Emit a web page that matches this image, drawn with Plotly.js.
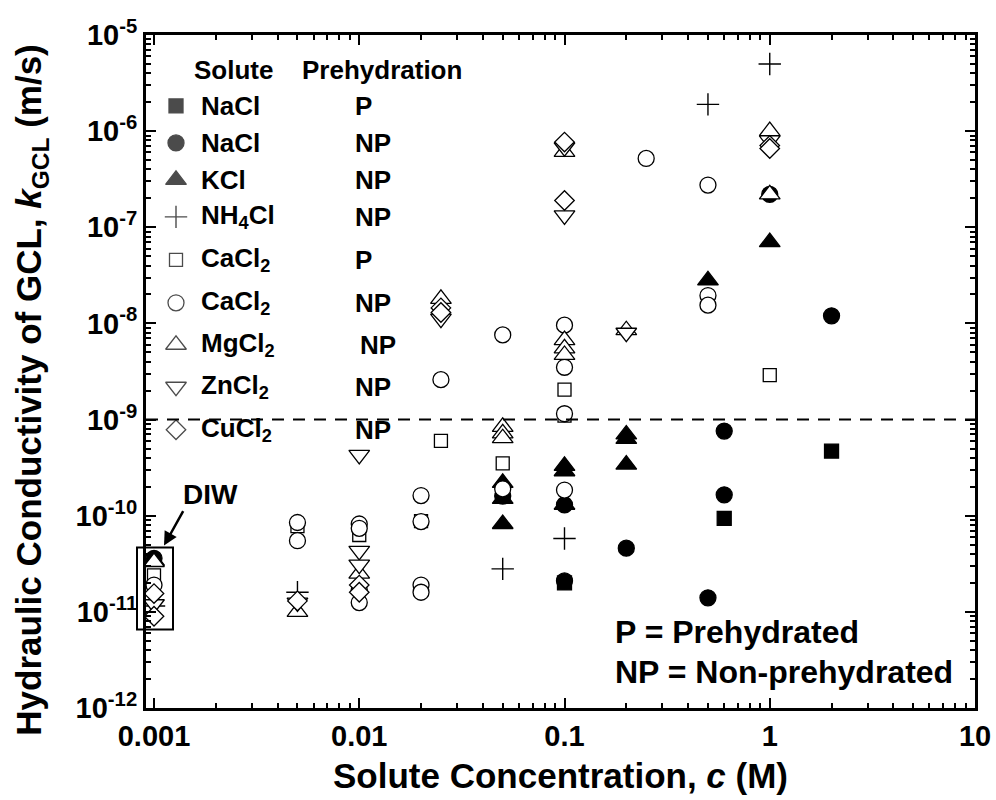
<!DOCTYPE html>
<html>
<head>
<meta charset="utf-8">
<script src="https://cdn.plot.ly/plotly-3.0.1.min.js"></script>
<style>html,body{margin:0;padding:0;background:#fff;}#chart{width:996px;height:800px;}</style>
</head>
<body>
<div id="chart"></div>
<script>
// ---- data: solute concentration c (M) and hydraulic conductivity k (m/s) ----
const naclP_c = [0.1, 0.6, 2];
const naclP_k = [2.0e-11, 9.4e-11, 4.7e-10];

const naclNP_c = [0.001, 0.05, 0.1, 0.1, 0.2, 0.5, 0.6, 0.6, 1, 2];
const naclNP_k = [3.6e-11, 1.6e-10, 1.3e-10, 2.1e-11, 4.6e-11, 1.4e-11, 1.65e-10, 7.6e-10, 2.2e-7, 1.2e-8];

const kcl_c = [0.001, 0.05, 0.05, 0.05, 0.1, 0.1, 0.1, 0.2, 0.2, 0.2, 0.5, 1];
const kcl_k = [3.4e-11, 2.2e-10, 1.5e-10, 8.2e-11, 3.3e-10, 2.9e-10, 1.3e-10, 7.0e-10, 6.3e-10, 3.4e-10, 2.8e-8, 7.0e-8];

const nh4cl_c = [0.001, 0.005, 0.05, 0.1, 0.5, 1];
const nh4cl_k = [1.15e-11, 1.6e-11, 2.8e-11, 5.8e-11, 1.9e-6, 5.0e-6];

const cacl2P_c = [0.001, 0.005, 0.01, 0.02, 0.025, 0.05, 0.1, 0.1, 1];
const cacl2P_k = [2.4e-11, 7.8e-11, 6.3e-11, 8.8e-11, 6.0e-10, 3.5e-10, 2.05e-9, 1.1e-9, 2.9e-9];

const cacl2NP_c = [0.001, 0.005, 0.005, 0.01, 0.01, 0.01, 0.01, 0.02, 0.02, 0.02, 0.02, 0.025, 0.05, 0.05, 0.1, 0.1, 0.1, 0.1, 0.25, 0.5, 0.5, 0.5];
const cacl2NP_k = [1.9e-11, 8.5e-11, 5.5e-11, 8.2e-11, 7.4e-11, 1.7e-11, 1.25e-11, 1.62e-10, 8.7e-11, 1.9e-11, 1.6e-11, 2.6e-9, 7.6e-9, 1.9e-10, 9.6e-9, 3.5e-9, 1.15e-9, 1.85e-10, 5.2e-7, 2.75e-7, 1.95e-8, 1.55e-8];

const mgcl2_c = [0.001, 0.005, 0.01, 0.025, 0.05, 0.05, 0.05, 0.1, 0.1, 0.1, 0.1, 0.2, 1, 1];
const mgcl2_k = [3.3e-11, 1.0e-11, 2.5e-11, 1.8e-8, 8.4e-10, 7.2e-10, 6.4e-10, 6.7e-9, 5.5e-9, 4.7e-9, 6.1e-7, 8.5e-9, 1.0e-6, 2.2e-7];

const zncl2_c = [0.001, 0.005, 0.01, 0.01, 0.01, 0.025, 0.1, 0.1, 0.2, 1];
const zncl2_k = [1.2e-11, 1.25e-11, 4.3e-10, 4.3e-11, 3.1e-11, 1.12e-8, 6.8e-7, 1.33e-7, 8.0e-9, 8.0e-7];

const cucl2_c = [0.001, 0.001, 0.005, 0.01, 0.01, 0.025, 0.025, 0.1, 0.1, 1, 1];
const cucl2_k = [1.55e-11, 9e-12, 1.3e-11, 1.9e-11, 1.6e-11, 1.45e-8, 1.3e-8, 7.7e-7, 1.9e-7, 7.1e-7, 6.6e-7];

const threshold_k = 1e-9;

const legendSolutes = ['NaCl', 'NaCl', 'KCl', 'NH<sub>4</sub>Cl', 'CaCl<sub>2</sub>', 'CaCl<sub>2</sub>', 'MgCl<sub>2</sub>', 'ZnCl<sub>2</sub>', 'CuCl<sub>2</sub>'];
const legendPrehyd = ['P', 'NP', 'NP', 'NP', 'P', 'NP', 'NP', 'NP', 'NP'];

const xTickVals = [0.001, 0.01, 0.1, 1, 10];
const xTickText = ['0.001', '0.01', '0.1', '1', '10'];
const yTickVals = [1e-12, 1e-11, 1e-10, 1e-9, 1e-8, 1e-7, 1e-6, 1e-5];
const yTickText = ['-12', '-11', '-10', '-9', '-8', '-7', '-6', '-5'];

// ---- styling ----
const FONT = 'Arial, "Liberation Sans", sans-serif';
const L = 146, R = 975, T = 35, B = 708.5, W = 996, H = 800;
const px = x => (x - L) / (R - L);
const py = y => (B - y) / (B - T);

const styles = [
  {sym: 'square', fill: 'black', size: 14},
  {sym: 'circle', fill: 'black', size: 16},
  {sym: 'triangle-up', fill: 'black', size: 18},
  {sym: 'cross-thin', fill: 'black', size: 16, plus: true},
  {sym: 'square', fill: 'white', size: 13},
  {sym: 'circle', fill: 'white', size: 16},
  {sym: 'triangle-up', fill: 'white', size: 18},
  {sym: 'triangle-down', fill: 'white', size: 18},
  {sym: 'diamond', fill: 'white', size: 15}
];
const series = [
  [naclP_c, naclP_k], [naclNP_c, naclNP_k], [kcl_c, kcl_k], [nh4cl_c, nh4cl_k],
  [cacl2P_c, cacl2P_k], [cacl2NP_c, cacl2NP_k], [mgcl2_c, mgcl2_k], [zncl2_c, zncl2_k], [cucl2_c, cucl2_k]
];

function markerOf(s) {
  if (s.plus) return {symbol: s.sym, size: s.size, color: 'black', line: {color: 'black', width: 1.4}};
  return {symbol: s.sym, size: s.size, color: s.fill, line: {color: 'black', width: 1.3}};
}

const traces = series.map((d, i) => ({
  type: 'scatter', mode: 'markers', x: d[0], y: d[1],
  marker: markerOf(styles[i]), showlegend: false, hoverinfo: 'x+y'
}));

// custom legend: marker column drawn on an overlay axis spanning the plot area [0,1]
const rowY = [106, 143, 180, 217, 260, 303, 345, 387, 430];
const legMarkX = 176;
traces.push({
  type: 'scatter', mode: 'markers', xaxis: 'x2', yaxis: 'y2',
  x: rowY.map(() => px(legMarkX)), y: rowY.map(py),
  marker: {
    symbol: styles.map(s => s.sym), size: styles.map(s => s.size),
    color: styles.map(s => s.fill), line: {color: 'black', width: styles.map(s => s.plus ? 1.4 : 1.3)}
  },
  showlegend: false, hoverinfo: 'skip'
});

const annotations = [];
const legFont = {family: FONT, size: 26, color: 'black', weight: 'bold'};
const noteFont = {family: FONT, size: 32, color: 'black', weight: 'bold'};
annotations.push({xref: 'paper', yref: 'paper', x: px(192), y: py(70), xanchor: 'left', yanchor: 'middle',
  text: '<b>Solute</b>', showarrow: false, font: legFont});
annotations.push({xref: 'paper', yref: 'paper', x: px(300), y: py(70), xanchor: 'left', yanchor: 'middle',
  text: '<b>Prehydration</b>', showarrow: false, font: legFont});
legendSolutes.forEach((s, i) => {
  annotations.push({xref: 'paper', yref: 'paper', x: px(199), y: py(rowY[i]), xanchor: 'left', yanchor: 'middle',
    text: '<b>' + s + '</b>', showarrow: false, font: legFont});
  annotations.push({xref: 'paper', yref: 'paper', x: px(i === 6 ? 358 : 353), y: py(rowY[i]), xanchor: 'left', yanchor: 'middle',
    text: '<b>' + legendPrehyd[i] + '</b>', showarrow: false, font: legFont});
});
annotations.push({xref: 'paper', yref: 'paper', x: px(613), y: py(632), xanchor: 'left', yanchor: 'middle',
  text: '<b>P = Prehydrated</b>', showarrow: false, font: noteFont});
annotations.push({xref: 'paper', yref: 'paper', x: px(613), y: py(672), xanchor: 'left', yanchor: 'middle',
  text: '<b>NP = Non-prehydrated</b>', showarrow: false, font: noteFont});
annotations.push({xref: 'paper', yref: 'paper', x: px(210), y: py(495), xanchor: 'center', yanchor: 'middle',
  text: '<b>DIW</b>', showarrow: false, font: {family: FONT, size: 28, color: 'black', weight: 'bold'}});
annotations.push({xref: 'paper', yref: 'paper', x: px(164), y: py(546), text: '', showarrow: true,
  ax: 20, ay: -36, arrowhead: 2, arrowsize: 1.1, arrowwidth: 2.5, arrowcolor: 'black'});
// axis titles
annotations.push({xref: 'paper', yref: 'paper', x: px(560), y: py(776), xanchor: 'center', yanchor: 'middle',
  text: '<b>Solute Concentration, <i>c</i> (M)</b>', showarrow: false,
  font: {family: FONT, size: 35, color: 'black', weight: 'bold'}});
annotations.push({xref: 'paper', yref: 'paper', x: px(31), y: py(390), xanchor: 'center', yanchor: 'middle',
  textangle: -90, text: '<b>Hydraulic Conductivity of GCL, <i>k</i><sub>GCL</sub> (m/s)</b>', showarrow: false,
  font: {family: FONT, size: 35, color: 'black', weight: 'bold'}});

const shapes = [
  {type: 'line', xref: 'paper', yref: 'y', x0: 0, x1: 1, y0: threshold_k, y1: threshold_k,
   line: {color: 'black', width: 2, dash: '12px,9px'}},
  {type: 'rect', xref: 'paper', yref: 'paper', x0: px(137), x1: px(173), y0: py(548), y1: py(630),
   line: {color: 'black', width: 2}, fillcolor: 'rgba(0,0,0,0)'}
];

function minorVals(lo, hi) {
  const v = [];
  for (let e = lo; e < hi; e++) for (let m = 2; m <= 9; m++) v.push(m * Math.pow(10, e));
  return v;
}

const tickFont = {family: FONT, size: 29, color: 'black', weight: 'bold'};
const axisCommon = {
  type: 'log', showline: true, linecolor: 'black', linewidth: 3, mirror: 'ticks',
  ticks: 'inside', ticklen: 10, tickwidth: 2, tickcolor: 'black', showgrid: false, zeroline: false,
  tickfont: tickFont, tickmode: 'array'
};

const layout = {
  width: W, height: H, paper_bgcolor: 'white', plot_bgcolor: 'white',
  margin: {l: L, r: W - R, t: T, b: H - B},
  font: {family: FONT, color: 'black'},
  showlegend: false,
  xaxis: Object.assign({}, axisCommon, {
    range: [-3 - 8 / 205.3, 1],
    tickvals: xTickVals, ticktext: xTickText.map(t => '<b>' + t + '</b>'),
    minor: {ticks: 'inside', ticklen: 5, tickwidth: 2, tickcolor: 'black', tickvals: minorVals(-3, 1)}
  }),
  yaxis: Object.assign({}, axisCommon, {
    range: [-12, -5],
    tickvals: yTickVals, ticktext: yTickText.map(t => '<b>10<sup>' + t + '</sup></b>'),
    minor: {ticks: 'inside', ticklen: 5, tickwidth: 2, tickcolor: 'black', tickvals: minorVals(-12, -5)}
  }),
  xaxis2: {overlaying: 'x', range: [0, 1], visible: false, fixedrange: true},
  yaxis2: {overlaying: 'y', range: [0, 1], visible: false, fixedrange: true},
  shapes: shapes,
  annotations: annotations
};

Plotly.newPlot('chart', traces, layout, {displayModeBar: false, staticPlot: true});
</script>
</body>
</html>
